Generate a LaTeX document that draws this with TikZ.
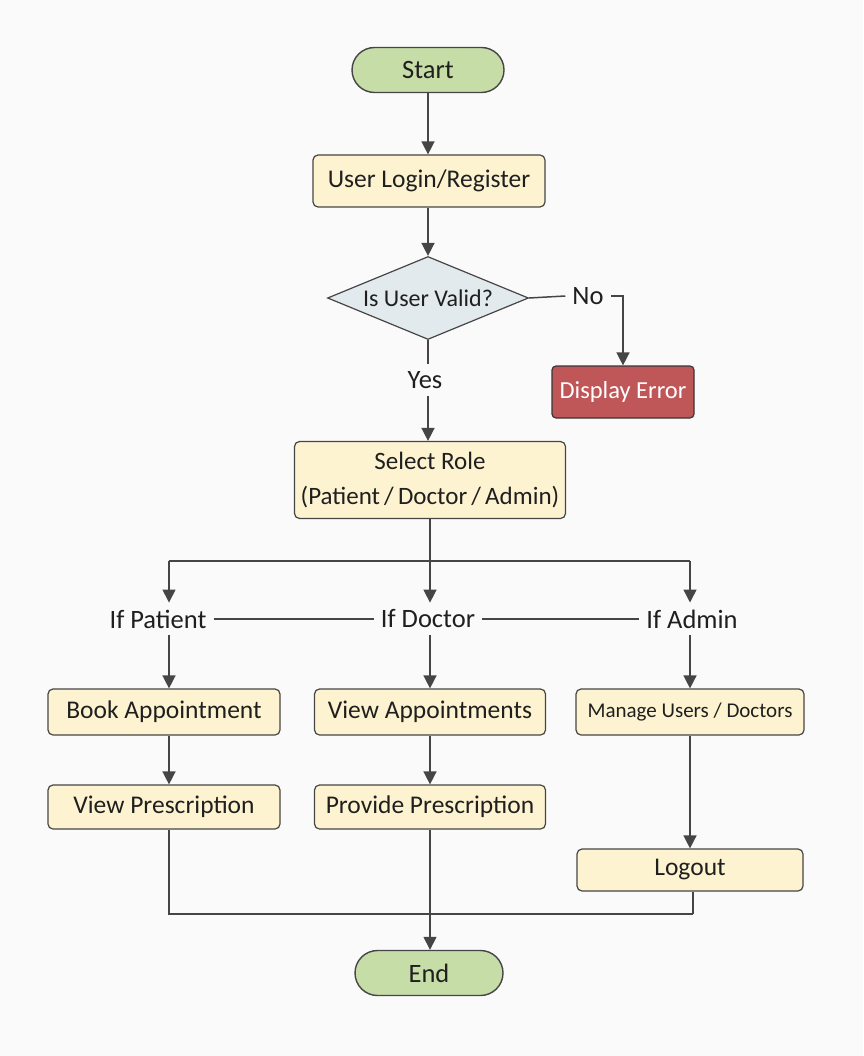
\documentclass[tikz,border=0pt]{standalone}
\usepackage{fontspec}
\setmainfont{Carlito}
\usetikzlibrary{shapes.geometric,arrows.meta}
\definecolor{bg}{HTML}{FAFAFA}
\definecolor{edge}{HTML}{454545}
\definecolor{termfill}{HTML}{C6DDA8}
\definecolor{procfill}{HTML}{FDF3D0}
\definecolor{decfill}{HTML}{E3EAEE}
\definecolor{errfill}{HTML}{BF5658}
\begin{document}
\begin{tikzpicture}[x=1pt,y=-1pt,
  every node/.style={font=\fontsize{25.5}{30}\selectfont, text=black!88},
  terminal/.style={draw=edge, line width=1.4pt, fill=termfill, rounded corners=22.5pt,
    minimum width=152pt, minimum height=45pt, inner sep=0pt, font=\fontsize{26.5}{30}\selectfont},
  procbox/.style={draw=edge, line width=1.2pt, fill=procfill, rounded corners=5pt,
    minimum height=46pt, inner sep=0pt},
  decbox/.style={draw=edge, line width=1.2pt, fill=decfill, diamond, aspect=2.42,
    minimum width=201pt, minimum height=83pt, inner sep=0pt, font=\fontsize{24}{28}\selectfont},
  errbox/.style={draw=edge!80!black, line width=1.2pt, fill=errfill, rounded corners=4pt,
    minimum width=142pt, minimum height=52pt, inner sep=0pt, text=white,
    font=\fontsize{24.5}{28}\selectfont},
  tag/.style={inner sep=7pt, font=\fontsize{26.5}{30}\selectfont},
  flow/.style={draw=edge, line width=1.5pt},
  arr/.style={flow, -{Triangle[length=13pt,width=13pt]}}
]
\fill[bg] (0,0) rectangle (863,1056);
\useasboundingbox (0,0) rectangle (863,1056);

% main column
\node[terminal] (start) at (428,70) {Start};
\node[procbox, minimum width=232pt, minimum height=52pt] (login) at (429,181) {User Login/Register};
\node[decbox] (valid) at (428,298) {Is User Valid?};
\node[tag] (no) at (588,296) {No};
\node[errbox] (err) at (623,392) {Display Error};
\node[tag] (yes) at (425,380) {Yes};
\node[procbox, minimum width=271pt, minimum height=77pt, align=center,
  font=\fontsize{25}{30}\selectfont] (role) at (430,480)
  {Select Role\\[5pt](Patient\,/\,Doctor\,/\,Admin)};

% role branches
\coordinate (split) at (430,561);
\coordinate (splitL) at (169,561);
\coordinate (splitR) at (690,561);
\node[tag] (ifp) at (158,619) {If Patient};
\node[tag] (ifd) at (428,619) {If Doctor};
\node[tag] (ifa) at (692,619) {If Admin};

\node[procbox, minimum width=232pt] (book) at (164,712) {Book Appointment};
\node[procbox, minimum width=231pt] (viewa) at (430,712) {View Appointments};
\node[procbox, minimum width=228pt, font=\fontsize{21}{24}\selectfont] (manage) at (690,712) {Manage Users / Doctors};
\node[procbox, minimum width=232pt, minimum height=44pt] (viewp) at (164,807) {View Prescription};
\node[procbox, minimum width=231pt, minimum height=44pt] (provide) at (430,807) {Provide Prescription};
\node[procbox, minimum width=226pt, minimum height=42pt] (logout) at (690,870) {Logout};
\node[terminal, minimum width=148pt] (end) at (429,973) {End};
\coordinate (joinL) at (169,914);
\coordinate (joinR) at (693,914);

% connectors
\draw[arr] (start.south) -- (start.south |- login.north);
\draw[arr] (start.south |- login.south) -- (valid.north);
\draw[flow] (valid.east) -- (no.west);
\draw[arr] (no.east) -| (err.north);
\draw[flow] (valid.south) -- (valid.south |- yes.north);
\draw[arr] (valid.south |- yes.south) -- (valid.south |- role.north);

\draw[flow] (role.south) -- (split);
\draw[flow] (splitL) -- (splitR);
\draw[arr] (split) -- (split |- ifd.north);
\draw[arr] (splitL) -- (splitL |- ifp.north);
\draw[arr] (splitR) -- (splitR |- ifa.north);
\draw[flow] (ifp.east) -- (ifd.west);
\draw[flow] (ifd.east) -- (ifa.west);

\draw[arr] (splitL |- ifp.south) -- (splitL |- book.north);
\draw[arr] (split |- ifd.south) -- (split |- viewa.north);
\draw[arr] (splitR |- ifa.south) -- (splitR |- manage.north);

\draw[arr] (splitL |- book.south) -- (splitL |- viewp.north);
\draw[arr] (split |- viewa.south) -- (split |- provide.north);
\draw[arr] (splitR |- manage.south) -- (splitR |- logout.north);

\draw[flow] (splitL |- viewp.south) -- (joinL) -- (joinR);
\draw[flow] (joinR |- logout.south) -- (joinR);
\draw[arr] (split |- provide.south) -- (split |- end.north);
\end{tikzpicture}
\end{document}
